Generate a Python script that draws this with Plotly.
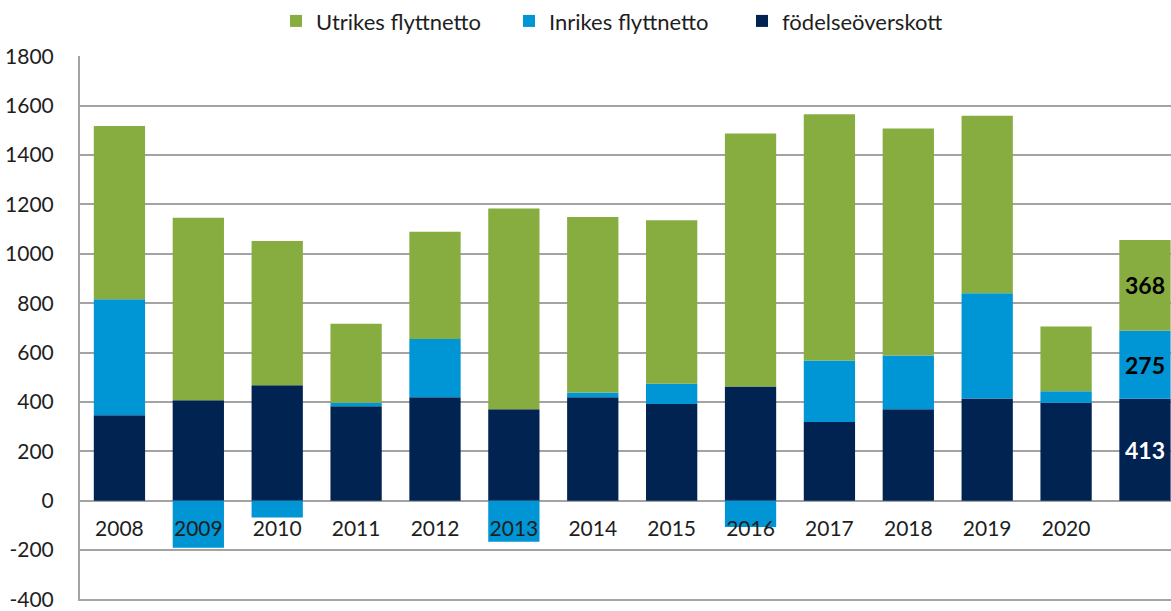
import plotly.graph_objects as go

years = ["2008", "2009", "2010", "2011", "2012", "2013", "2014", "2015",
         "2016", "2017", "2018", "2019", "2020", " "]
fodelseoverskott = [346, 407, 468, 383, 419, 370, 419, 392, 463, 319, 370, 414, 397, 413]
inrikes = [470, -190, -68, 14, 236, -166, 19, 82, -106, 249, 218, 426, 46, 275]
utrikes = [702, 739, 584, 320, 434, 813, 711, 662, 1024, 997, 919, 719, 263, 368]

ytick_vals = [-400, -200, 0, 200, 400, 600, 800, 1000, 1200, 1400, 1600, 1800]
ytick_text = ["-400", "-200", "0", "200", "400", "600", "800", "1000", "1200",
              "1400", "1600", "1800"]

labels_fod = ["" for _ in years[:-1]] + [str(fodelseoverskott[-1])]
labels_inr = ["" for _ in years[:-1]] + [str(inrikes[-1])]
labels_utr = ["" for _ in years[:-1]] + [str(utrikes[-1])]

NAVY = "#002352"
BLUE = "#0095D4"
GREEN = "#87AC3F"
GRID = "#A3A3A3"
FONT = "Lato"
TXT = "#1E1E1E"

fig = go.Figure()
fig.add_trace(go.Bar(x=years, y=fodelseoverskott, name="födelseöverskott",
                     marker=dict(color=NAVY, line=dict(width=0)),
                     text=labels_fod, textposition="inside", insidetextanchor="middle",
                     textangle=0,
                     textfont=dict(color="white", size=23, family=FONT, weight="bold")))
fig.add_trace(go.Bar(x=years, y=inrikes, name="Inrikes flyttnetto",
                     marker=dict(color=BLUE, line=dict(width=0)),
                     text=labels_inr, textposition="inside", insidetextanchor="middle",
                     textangle=0,
                     textfont=dict(color="black", size=23, family=FONT, weight="bold")))
fig.add_trace(go.Bar(x=years, y=utrikes, name="Utrikes flyttnetto",
                     marker=dict(color=GREEN, line=dict(width=0)),
                     text=labels_utr, textposition="inside", insidetextanchor="middle",
                     textangle=0,
                     textfont=dict(color="black", size=23, family=FONT, weight="bold")))

ymin, ymax = -406, 1801
zero_pos = (0 - ymin) / (ymax - ymin)

fig.update_layout(
    width=1171, height=611,
    margin=dict(l=80, r=0, t=54, b=8),
    barmode="relative",
    bargap=0.35,
    plot_bgcolor="white",
    paper_bgcolor="white",
    font=dict(family=FONT, size=21, color=TXT),
    showlegend=True,
    legend=dict(orientation="h", traceorder="reversed",
                x=0.5, xanchor="center", y=1.064, yanchor="middle",
                font=dict(size=22, color=TXT),
                entrywidth=188,
                itemsizing="constant", bgcolor="rgba(0,0,0,0)"),
    xaxis=dict(type="category", range=[-0.5, 13.33], anchor="free", position=zero_pos,
               showgrid=False, showline=False, zeroline=False,
               ticks="outside", ticklen=9, tickcolor="rgba(0,0,0,0)",
               tickfont=dict(size=21, color=TXT, family=FONT),
               fixedrange=True),
    yaxis=dict(range=[ymin, ymax], tickmode="array", tickvals=ytick_vals, ticktext=ytick_text,
               showgrid=True, gridcolor=GRID, gridwidth=2,
               zeroline=True, zerolinecolor=GRID, zerolinewidth=2,
               showline=True, linecolor=GRID, linewidth=2,
               ticks="", ticklabelstandoff=20, ticklabeloverflow="allow",
               tickfont=dict(size=21, color=TXT, family=FONT)),
)

fig.write_html("out.html", config={"displayModeBar": False},
               post_script="document.body.style.margin='0';document.body.style.overflow='hidden';")
